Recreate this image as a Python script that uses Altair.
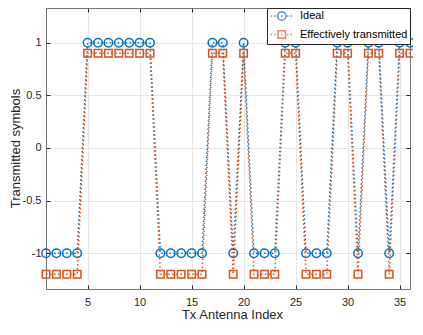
import altair as alt
import pandas as pd

# ---- data ----
antenna_index = list(range(1, 37))
ideal = [-1, -1, -1, -1, 1, 1, 1, 1, 1, 1, 1, -1, -1, -1, -1, -1, 1, 1, -1, 1,
         -1, -1, -1, 1, 1, -1, -1, -1, 1, 1, -1, 1, 1, -1, 1, 1]
effective = [-1.2, -1.2, -1.2, -1.2, 0.9, 0.9, 0.9, 0.9, 0.9, 0.9, 0.9,
             -1.2, -1.2, -1.2, -1.2, -1.2, 0.9, 0.9, -1.2, 0.9,
             -1.2, -1.2, -1.2, 0.9, 0.9, -1.2, -1.2, -1.2, 0.9, 0.9,
             -1.2, 0.9, 0.9, -1.2, 0.9, 0.9]
series_names = ["Ideal", "Effectively transmitted"]
x_ticks = [5, 10, 15, 20, 25, 30, 35]
y_ticks = [-1, -0.5, 0, 0.5, 1]
x_domain = [1, 36]
y_domain = [-1.34, 1.33]

BLUE = "#0072BD"
ORANGE = "#D95319"
AX = "#262626"
W, H = 364, 281
FONT = "Liberation Sans"

df_ideal = pd.DataFrame({"idx": antenna_index, "val": ideal, "series": series_names[0]})
df_eff = pd.DataFrame({"idx": antenna_index, "val": effective, "series": series_names[1]})
df_all = pd.concat([df_ideal, df_eff], ignore_index=True)

xs = alt.Scale(domain=x_domain, nice=False, zero=False)
ys = alt.Scale(domain=y_domain, nice=False, zero=False)

main_x = alt.Axis(orient="bottom", values=x_ticks, grid=True, ticks=False, tickSize=0,
                  domain=False, labelPadding=7, title="Tx Antenna Index", titlePadding=1,
                  titleX=186)
main_y = alt.Axis(orient="left", values=y_ticks, grid=True, ticks=False, tickSize=0,
                  domain=False, labelPadding=5, labelExpr="'' + datum.value",
                  title="Transmitted symbols", titleX=-31, titleY=140,
                  titleBaseline="middle", titleAlign="center", titleAngle=270)


def tick_axis(orient, offset, vals):
    return alt.Axis(orient=orient, offset=offset, values=vals, labels=False, grid=False,
                    domain=False, ticks=True, tickSize=4, tickColor=AX, tickWidth=1, title=None)


dash = [1.5, 2.5]

blue_line = alt.Chart(df_ideal).mark_line(color=BLUE, strokeWidth=1.5, strokeDash=dash).encode(
    x=alt.X("idx:Q", scale=xs, axis=main_x),
    y=alt.Y("val:Q", scale=ys, axis=main_y),
)
blue_pts = alt.Chart(df_ideal).mark_point(shape="circle", size=72, filled=False, color=BLUE,
                                          strokeWidth=1.5, opacity=1).encode(
    x=alt.X("idx:Q", scale=xs, axis=None),
    y=alt.Y("val:Q", scale=ys, axis=None),
)
orange_line = alt.Chart(df_eff).mark_line(color=ORANGE, strokeWidth=1.5, strokeDash=dash).encode(
    x=alt.X("idx:Q", scale=xs, axis=tick_axis("bottom", -H, x_ticks)),
    y=alt.Y("val:Q", scale=ys, axis=tick_axis("left", -W, y_ticks)),
)
orange_pts = alt.Chart(df_eff).mark_point(shape="square", size=56, filled=False, color=ORANGE,
                                          strokeWidth=1.5, opacity=1).encode(
    x=alt.X("idx:Q", scale=xs, axis=tick_axis("top", -H, x_ticks)),
    y=alt.Y("val:Q", scale=ys, axis=tick_axis("right", -W, y_ticks)),
)

dots = "M-0.86,0L-0.56,0M-0.16,0L0.14,0M1.19,0L1.49,0M2.4,0L2.7,0M3.1,0L3.4,0"
path_ideal = dots + "M0.49,0A0.85,0.85,0,1,1,2.19,0A0.85,0.85,0,1,1,0.49,0Z"
path_eff = dots + "M0.59,-0.75L2.09,-0.75L2.09,0.75L0.59,0.75Z"

leg = alt.Legend(orient="none", legendX=221, legendY=0, title=None, fillColor="white",
                 strokeColor=AX, padding=2, rowPadding=3.5, labelOffset=19,
                 labelFont=FONT, labelFontSize=11, labelColor="black",
                 symbolSize=100, symbolStrokeWidth=1.5)

legend_layer = alt.Chart(df_all).transform_filter("false").mark_point(
    filled=False, strokeWidth=1.5).encode(
    color=alt.Color("series:N", scale=alt.Scale(domain=series_names, range=[BLUE, ORANGE]), legend=leg),
    shape=alt.Shape("series:N", scale=alt.Scale(domain=series_names, range=[path_ideal, path_eff]), legend=leg),
)

chart = alt.layer(blue_line, blue_pts, orange_line, orange_pts, legend_layer).resolve_axis(
    x="independent", y="independent"
).properties(
    width=W, height=H,
    autosize=alt.AutoSizeParams(type="none"),
    padding={"left": 38, "top": 0, "right": 3, "bottom": 33},
).configure_view(
    stroke="#737373", strokeWidth=1
).configure_axis(
    labelFont=FONT, labelFontSize=11, labelColor=AX,
    titleFont=FONT, titleFontSize=13, titleFontWeight="normal", titleColor=AX,
    gridColor="#e6e6e6", gridWidth=1,
)

chart.save("out.html", embed_options={"renderer": "svg", "actions": False})
